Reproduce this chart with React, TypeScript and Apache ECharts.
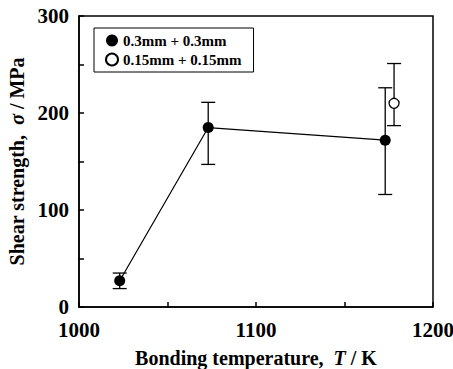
import React, { useEffect, useRef } from "react";
import * as echarts from "echarts";

const thickTemps = [1023, 1073, 1173];
const thickValues = [27, 185, 172];
const thickLow = [19, 147, 116];
const thickHigh = [35, 211, 226];

const thinTemps = [1178];
const thinValues = [210];
const thinLow = [187];
const thinHigh = [251];

const seriesNames = ["0.3mm + 0.3mm", "0.15mm + 0.15mm"];

const FONT = "Liberation Serif";

export default function App() {
  const ref = useRef<HTMLDivElement>(null);
  useEffect(() => {
    if (!ref.current) return;
    const chart = echarts.init(ref.current, null, { renderer: "svg" });
    const errData: number[][] = [];
    thickTemps.forEach((t, i) => errData.push([t, thickLow[i], thickHigh[i]]));
    thinTemps.forEach((t, i) => errData.push([t, thinLow[i], thinHigh[i]]));
    chart.setOption({
      animation: false,
      backgroundColor: "#fff",
      textStyle: { fontFamily: FONT },
      grid: {
        left: 79,
        top: 16,
        right: 20,
        bottom: 62,
        show: true,
        borderColor: "#000",
        borderWidth: 1.5,
        containLabel: false,
        outerBoundsMode: "none",
      },
      legend: {
        orient: "vertical",
        left: 94,
        top: 28,
        padding: [5, 12, 5, 11],
        itemGap: 4,
        itemWidth: 12,
        itemHeight: 12,
        borderColor: "#000",
        borderWidth: 1,
        textStyle: { fontFamily: FONT, fontWeight: "bold", fontSize: 15, color: "#000" },
        data: [
          { name: seriesNames[0], icon: "circle" },
          { name: seriesNames[1], icon: "circle" },
        ],
      },
      xAxis: {
        type: "value",
        min: 1000,
        max: 1200,
        interval: 100,
        name: "{b|Bonding temperature,  }{i|T}{b| / K}",
        nameLocation: "middle",
        nameGap: 41,
        nameTextStyle: {
          rich: {
            b: { fontFamily: FONT, fontWeight: "bold", fontSize: 20, color: "#000" },
            i: { fontFamily: FONT, fontWeight: "bold", fontStyle: "italic", fontSize: 20, color: "#000" },
          },
        },
        axisLine: { lineStyle: { color: "#000", width: 1.5 } },
        axisTick: { inside: true, length: 5, lineStyle: { color: "#000", width: 1.5 } },
        minorTick: { show: true, splitNumber: 2, length: 5, lineStyle: { color: "#000", width: 1.5 } },
        axisLabel: {
          margin: 12,
          fontFamily: FONT,
          fontWeight: "bold",
          fontSize: 21,
          color: "#000",
          formatter: (v: number) => String(v),
        },
        splitLine: { show: false },
      },
      yAxis: {
        type: "value",
        min: 0,
        max: 300,
        interval: 100,
        name: "{b|Shear strength,  }{i|σ}{b| / MPa}",
        nameLocation: "middle",
        nameGap: 52,
        nameTextStyle: {
          rich: {
            b: { fontFamily: FONT, fontWeight: "bold", fontSize: 20, color: "#000" },
            i: { fontFamily: FONT, fontWeight: "bold", fontStyle: "italic", fontSize: 20, color: "#000" },
          },
        },
        axisLine: { lineStyle: { color: "#000", width: 1.5 } },
        axisTick: { inside: true, length: 5, lineStyle: { color: "#000", width: 1.5 } },
        minorTick: { show: true, splitNumber: 2, length: 5, lineStyle: { color: "#000", width: 1.5 } },
        axisLabel: { margin: 10, fontFamily: FONT, fontWeight: "bold", fontSize: 21, color: "#000" },
        splitLine: { show: false },
      },
      series: [
        {
          type: "custom",
          z: 1,
          silent: true,
          data: errData,
          renderItem: (params: any, api: any) => {
            const x = api.value(0);
            const lo = api.coord([x, api.value(1)]);
            const hi = api.coord([x, api.value(2)]);
            const w = 7;
            const style = { stroke: "#000", lineWidth: 1.3 };
            return {
              type: "group",
              children: [
                { type: "line", shape: { x1: lo[0], y1: lo[1], x2: hi[0], y2: hi[1] }, style },
                { type: "line", shape: { x1: lo[0] - w, y1: lo[1], x2: lo[0] + w, y2: lo[1] }, style },
                { type: "line", shape: { x1: hi[0] - w, y1: hi[1], x2: hi[0] + w, y2: hi[1] }, style },
              ],
            };
          },
        },
        {
          name: seriesNames[0],
          type: "line",
          z: 2,
          data: thickTemps.map((t, i) => [t, thickValues[i]]),
          symbol: "circle",
          symbolSize: 11,
          itemStyle: { color: "#000" },
          lineStyle: { color: "#000", width: 1.2 },
        },
        {
          name: seriesNames[1],
          type: "scatter",
          z: 3,
          data: thinTemps.map((t, i) => [t, thinValues[i]]),
          symbol: "circle",
          symbolSize: 10,
          itemStyle: { color: "#fff", borderColor: "#000", borderWidth: 1.3, opacity: 1 },
        },
      ],
    });
    return () => chart.dispose();
  }, []);
  return (
    <div
      ref={ref}
      style={{ position: "fixed", left: 0, top: 0, width: 453, height: 369, background: "#fff" }}
    />
  );
}
